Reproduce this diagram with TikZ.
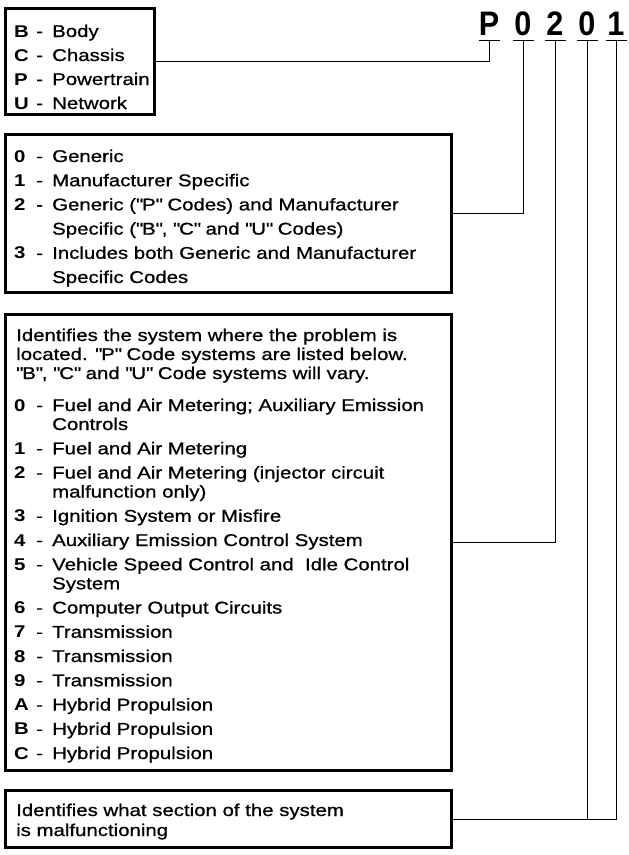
\documentclass[tikz,border=0pt]{standalone}
\usepackage{fontspec}
\setmainfont{Liberation Sans}[FakeStretch=1.2, UprightFeatures={FakeBold=0.8}]
\newfontfamily\codefont{Liberation Sans}[FakeStretch=0.9]
\newcommand{\key}[1]{\makebox[22pt][l]{\bfseries #1}\makebox[16pt][l]{-}}
\newcommand{\cont}{\hspace*{38pt}}
\newcommand{\q}[1]{\textquotedbl#1\textquotedbl}

\begin{document}
\begin{tikzpicture}[
            x=1pt, y=-1pt,
            panel/.style={draw, line width=3pt, inner sep=0pt},
            listing/.style={anchor=base west, inner sep=0pt, align=left},
            code/.style={font=\codefont\fontsize{34}{34}\selectfont\bfseries,
                anchor=base, inner xsep=0pt, inner ysep=5pt, outer sep=0pt,
                minimum width=21pt, text depth=0pt},
            lead/.style={line width=1pt}
        ]
        \useasboundingbox (0, 0) rectangle (629, 855);

        % the code
        \node[code] (cP) at (489, 35) {P};
        \node[code] (c1) at (523, 35) {0};
        \node[code] (c2) at (555, 35) {2};
        \node[code] (c3) at (587, 35) {0};
        \node[code] (c4) at (616, 35) {1};
        \foreach \c in {cP, c1, c2, c3, c4}
            \draw[lead] (\c.south west) -- (\c.south east);

        % the boxes
        \node[panel, minimum width=149pt, minimum height=106pt] (sys)  at (80, 61.5)   {};
        \node[panel, minimum width=446pt, minimum height=158pt] (kind) at (228.5, 213.5) {};
        \node[panel, minimum width=446pt, minimum height=456pt] (area) at (228.5, 542.5) {};
        \node[panel, minimum width=446pt, minimum height=57pt]  (part) at (228.5, 819)   {};

        % text, placed by the baseline of its last line
        \node[listing, font=\fontsize{17}{24}\selectfont] (sysText) at (14, 109) {%
            \key{B}Body\\
            \key{C}Chassis\\
            \key{P}Powertrain\\
            \key{U}Network};

        \node[listing, font=\fontsize{17}{24.2}\selectfont] (kindText) at (14, 283) {%
            \key{0}Generic\\
            \key{1}Manufacturer Specific\\
            \key{2}Generic (\q{P} Codes) and Manufacturer\\
            \cont Specific (\q{B}, \q{C} and \q{U} Codes)\\
            \key{3}Includes both Generic and Manufacturer\\
            \cont Specific Codes};

        \node[listing, font=\fontsize{17}{19}\selectfont] (areaText) at (14, 759) {%
            \hspace*{2pt}Identifies the system where the problem is\\
            \hspace*{2pt}located. \q{P} Code systems are listed below.\\
            \hspace*{2pt}\q{B}, \q{C} and \q{U} Code systems will vary.\\[13pt]
            \key{0}Fuel and Air Metering; Auxiliary Emission\\
            \cont Controls\\[5.25pt]
            \key{1}Fuel and Air Metering\\[5.25pt]
            \key{2}Fuel and Air Metering (injector circuit\\
            \cont malfunction only)\\[5.25pt]
            \key{3}Ignition System or Misfire\\[5.25pt]
            \key{4}Auxiliary Emission Control System\\[5.25pt]
            \key{5}Vehicle Speed Control and\ \ Idle Control\\
            \cont System\\[5.25pt]
            \key{6}Computer Output Circuits\\[5.25pt]
            \key{7}Transmission\\[5.25pt]
            \key{8}Transmission\\[5.25pt]
            \key{9}Transmission\\[5.25pt]
            \key{A}Hybrid Propulsion\\[5.25pt]
            \key{B}Hybrid Propulsion\\[5.25pt]
            \key{C}Hybrid Propulsion};

        \node[listing, font=\fontsize{17}{20}\selectfont] (partText) at (16, 836) {%
            Identifies what section of the system\\
            is malfunctioning};

        % leads
        \draw[lead] (sys.east)  -| (cP.south);
        \draw[lead] (kind.east) -| (c1.south);
        \draw[lead] (area.east) -| (c2.south);
        \draw[lead] (part.east) -| (c4.south);
        \draw[lead] (c3.south) -- (c3.south |- part.east);
    \end{tikzpicture}
\end{document}
